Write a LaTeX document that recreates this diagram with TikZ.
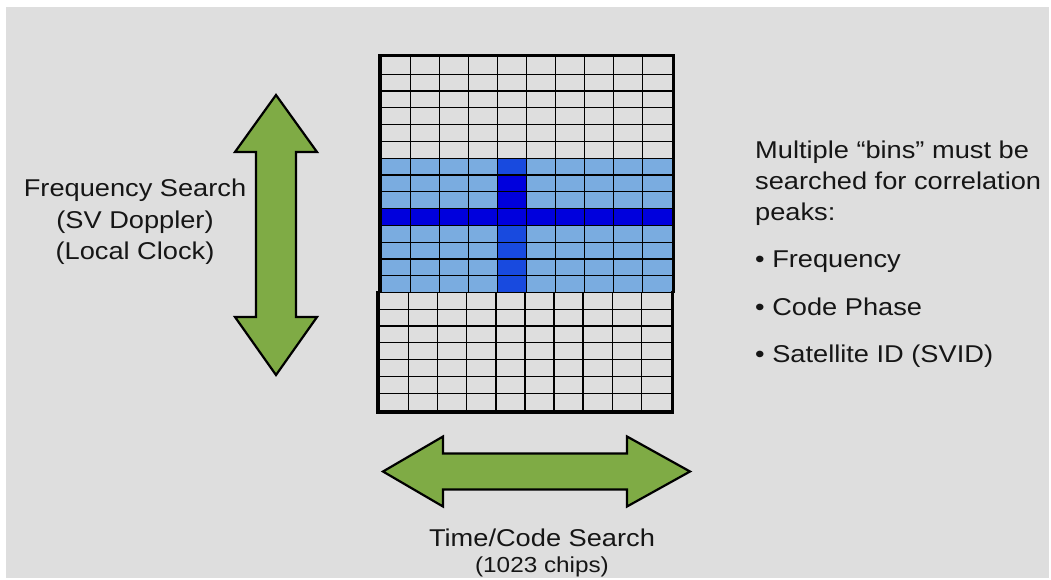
\documentclass[tikz,border=0pt]{standalone}
\usepackage{fontspec}
\setmainfont{Liberation Sans}[FakeStretch=1.12]
\definecolor{panel}{RGB}{222,222,222}
\definecolor{binlight}{RGB}{122,172,224}
\definecolor{binpeak}{RGB}{0,0,221}
\definecolor{bincode}{RGB}{24,74,223}
\definecolor{arrowgreen}{RGB}{127,171,69}
\definecolor{ink}{RGB}{22,22,22}
\tikzset{
  label text/.style={text=ink, inner sep=0pt, font=\fontsize{24.3}{31}\selectfont},
  small text/.style={text=ink, inner sep=0pt, font=\fontsize{21.7}{26}\selectfont},
  gridline/.style={black, line width=1.2pt},
  frame/.style={black, line width=3.5pt, line join=miter},
  bigarrow/.style={fill=arrowgreen, draw=black, line width=2.2pt, line join=miter},
}
\begin{document}
\begin{tikzpicture}[x=1pt,y=-1pt]
% page and grey panel
\useasboundingbox (0,0) rectangle (1051,579);
\fill[white] (0,0) rectangle (1051,579);
\fill[panel] (6,7) rectangle (1049,578);

% search grid: 10 code-phase columns x 21 frequency rows
\def\xa{381.2}\def\xb{379.7}\def\cw{29.05}
\def\ya{57.5}\def\rh{16.786}
% frequency band being searched
\fill[binlight] (\xa,{\ya+6*\rh}) rectangle ({\xa+10*\cw},{\ya+14*\rh});
% code-phase column
\fill[bincode] ({\xa+4*\cw},{\ya+6*\rh}) rectangle ({\xa+5*\cw},{\ya+14*\rh});
\fill[binpeak] ({\xa+4*\cw},{\ya+7*\rh}) rectangle ({\xa+5*\cw},{\ya+9*\rh});
% correlation peak row
\fill[binpeak] (\xa,{\ya+9*\rh}) rectangle ({\xa+10*\cw},{\ya+10*\rh});

% cell lines, upper block
\foreach \k in {1,...,14}
  \draw[gridline] (380,{\ya+\k*\rh}) -- (673.3,{\ya+\k*\rh});
\foreach \i in {1,...,9}
  \draw[gridline] ({\xa+\i*\cw},55.5) -- ({\xa+\i*\cw},{\ya+14*\rh});
% cell lines, lower block
\foreach \k in {15,...,20}
  \draw[gridline] (378,{\ya+\k*\rh}) -- (672.3,{\ya+\k*\rh});
\foreach \i in {1,...,9}
  \draw[gridline] ({\xb+\i*\cw},{\ya+14*\rh}) -- ({\xb+\i*\cw},412);

% outer frames of the two blocks
\draw[frame] (380,293) -- (380,55.5) -- (673.3,55.5) -- (673.3,293);
\draw[frame] (378,291) -- (378,412) -- (672.3,412) -- (672.3,291);

% frequency search arrow
\draw[bigarrow] (276,95) -- (317,152) -- (296,152) -- (296,317) -- (317,317)
  -- (276,375) -- (235,317) -- (256,317) -- (256,152) -- (235,152) -- cycle;
% time/code search arrow
\draw[bigarrow] (383,471.5) -- (443,436.5) -- (443,453.5) -- (627,453.5) -- (627,436.5)
  -- (690,471.5) -- (627,506.5) -- (627,489.5) -- (443,489.5) -- (443,506.5) -- cycle;

% labels
\node[label text, anchor=base] (freq1) at (135,196.7) {Frequency Search};
\node[label text, anchor=base] (freq2) at (135,228.2) {(SV Doppler)};
\node[label text, anchor=base] (freq3) at (135,259.5) {(Local Clock)};

\node[label text, anchor=base] (time1) at (542,546) {Time/Code Search};
\node[small text, anchor=base] (time2) at (542,572) {(1023 chips)};

\node[label text, anchor=base west] (note1) at (755,158.3) {Multiple “bins” must be};
\node[label text, anchor=base west] (note2) at (755,189.5) {searched for correlation};
\node[label text, anchor=base west] (note3) at (755,220.5) {peaks:};
\node[label text, anchor=base west] (item1) at (755,267.3) {• Frequency};
\node[label text, anchor=base west] (item2) at (755,315) {• Code Phase};
\node[label text, anchor=base west] (item3) at (755,362.7) {• Satellite ID (SVID)};
\end{tikzpicture}
\end{document}
